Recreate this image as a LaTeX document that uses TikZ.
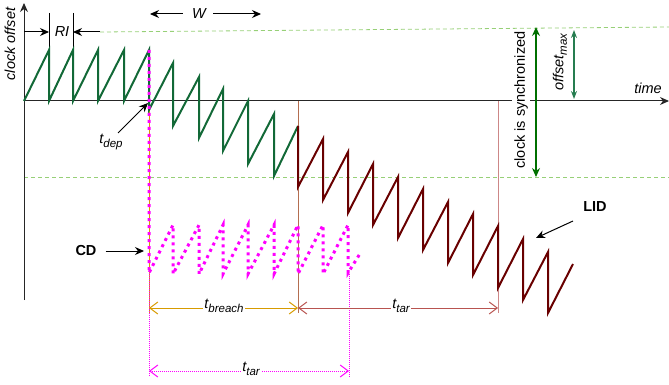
\documentclass[tikz,border=0pt]{standalone}
\usepackage{fontspec}
\setmainfont{Liberation Sans}
\usetikzlibrary{arrows.meta}
\definecolor{sawgreen}{RGB}{18,105,55}
\definecolor{sawred}{RGB}{105,0,0}
\definecolor{dashgreen}{RGB}{151,208,119}
\definecolor{syncgreen}{RGB}{0,112,0}
\definecolor{offgreen}{RGB}{38,125,80}
\definecolor{breachorange}{RGB}{215,155,0}
\definecolor{tarred}{RGB}{184,84,80}
\definecolor{brownline}{RGB}{180,110,80}
\definecolor{pinkline}{RGB}{205,135,135}
\definecolor{cdmag}{RGB}{255,0,255}
\newcommand\mysub[1]{\raisebox{-3.5pt}{\fontsize{11.5pt}{12pt}\selectfont #1}}
\begin{document}
\begin{tikzpicture}[x=1pt,y=-1pt,
  every node/.style={font=\fontsize{14.5pt}{17pt}\selectfont, inner sep=1pt},
  itl/.style={font=\fontsize{14.5pt}{17pt}\selectfont\itshape},
  bld/.style={font=\fontsize{14.5pt}{17pt}\selectfont\bfseries},
  axis/.style={line width=1pt, draw=black!85},
  guide/.style={draw=dashgreen, dashed, dash pattern=on 4pt off 3pt, line width=0.8pt},
  saw/.style={line width=2pt, line join=miter},
  cdline/.style={draw=cdmag, line width=3pt, dash pattern=on 3pt off 4pt},
  thinmag/.style={draw=cdmag, line width=0.8pt, dash pattern=on 1pt off 1pt},
  blackarrow/.style={draw=black, line width=1pt, -{Stealth[length=9pt,width=8pt]}},
  openarrow/.style={line width=1pt, {Straight Barb[length=8pt,width=12pt]}-{Straight Barb[length=8pt,width=12pt]}}
]
\useasboundingbox (0,0) rectangle (669,385);

% guide lines
\coordinate (gu1) at (100,32);
\coordinate (gu2) at (669,27);
\coordinate (gl1) at (24,177);
\coordinate (gl2) at (669,177);
\draw[guide] (gu1) -- (gu2);
\draw[guide] (gl1) -- (gl2);

% axes
\coordinate (o) at (24,101);
\coordinate (ytop) at (24,3);
\coordinate (ybot) at (24,300);
\coordinate (xend) at (669,101);
\draw[axis, -{Stealth[length=9pt,width=8pt]}] (ybot) -- (ytop);
\draw[axis, -{Stealth[length=9pt,width=8pt]}] (o) -- (xend);

\node[itl, rotate=90] (ylab) at (10,44) {clock offset};
\node[itl] (xlab) at (648,88) {time};

% RI
\coordinate (ri1t) at (49,13); \coordinate (ri1b) at (49,48);
\coordinate (ri2t) at (73,13); \coordinate (ri2b) at (73,48);
\draw[line width=0.8pt] (ri1t) -- (ri1b);
\draw[line width=0.8pt] (ri2t) -- (ri2b);
\coordinate (ria) at (24,32); \coordinate (riat) at (49,32);
\coordinate (rib) at (100,32); \coordinate (ribt) at (73,32);
\draw[blackarrow] (ria) -- (riat);
\draw[blackarrow] (rib) -- (ribt);
\node[itl] (RI) at (62,32) {RI};

% W
\node[itl] (W) at (199,14) {W};
\coordinate (wl) at (150,14);
\coordinate (wr) at (261,14);
\draw[blackarrow] ([xshift=-8pt]W.west) -- (wl);
\draw[blackarrow] ([xshift=6pt]W.east) -- (wr);

% vertical markers
\coordinate (v1t) at (149,101); \coordinate (v1b) at (149,313);
\coordinate (v2t) at (298,101); \coordinate (v2b) at (298,313);
\coordinate (v3t) at (498,101); \coordinate (v3b) at (498,313);
\draw[breachorange, line width=0.8pt] (v1t) -- (v1b);
\draw[brownline, line width=1pt] (v2t) -- (v2b);
\draw[pinkline, line width=1pt] (v3t) -- (v3b);

% green sawtooth
\draw[saw, sawgreen] (24,101)--(49,50)--(49,101)--(73,50)--(73,101)--(98,50)--(98,101)--(124,50)--(124,101)--(149,50)--(149,110)--(173,63)--(173,126)--(199,77)--(199,138)--(223,89)--(223,151)--(248,101)--(248,164)--(274,114)--(274,176)--(298,126);

% red sawtooth
\draw[saw, sawred] (298,126)--(298,187)--(323,139)--(323,200)--(348,152)--(348,213)--(373,164)--(373,225)--(398,177)--(398,238)--(423,189)--(423,250)--(448,202)--(448,263)--(473,214)--(473,275)--(498,226)--(498,288)--(523,239)--(523,300)--(548,252)--(548,313)--(573,264);

% CD sawtooth
\draw[cdline] (149,50)--(149,273)--(173,225)--(173,274)--(199,225)--(199,274)--(223,225)--(223,274)--(248,225)--(248,274)--(274,225)--(274,274)--(298,225)--(298,274)--(323,225)--(323,274)--(348,225)--(348,273)--(361,252);

% thin magenta verticals
\coordinate (m1t) at (149,273); \coordinate (m1b) at (149,377);
\coordinate (m2t) at (349,274); \coordinate (m2b) at (349,377);
\draw[thinmag] (m1t) -- (m1b);
\draw[thinmag] (m2t) -- (m2b);

% t_breach and t_tar arrows
\coordinate (tb1) at (149,308); \coordinate (tb2) at (298,308);
\coordinate (tt1) at (298,308); \coordinate (tt2) at (498,308);
\coordinate (tm1) at (149,371); \coordinate (tm2) at (349,371);
\draw[openarrow, breachorange] (tb1) -- (tb2);
\draw[openarrow, tarred] (tt1) -- (tt2);
\draw[openarrow, cdmag, dash pattern=on 1pt off 1pt] (tm1) -- (tm2);
\node[itl, fill=white] (tbreach) at (224,306) {t\mysub{breach}};
\node[itl, fill=white] (ttar) at (401,306) {t\mysub{tar}};
\node[itl, fill=white] (ttar2) at (251,369) {t\mysub{tar}};

% t_dep
\node[itl] (tdep) at (111,142) {t\mysub{dep}};
\coordinate (tdept) at (148,103);
\draw[blackarrow] (118,133) -- (tdept);

% CD and LID labels
\node[bld] (CD) at (86,251) {CD};
\coordinate (cdt) at (144,251);
\draw[blackarrow] ([xshift=8pt]CD.east) -- (cdt);
\node[bld] (LID) at (595,207) {LID};
\coordinate (lidt) at (536,238);
\draw[blackarrow] (573,221) -- (lidt);

% sync arrows
\coordinate (s1) at (536,27); \coordinate (s2) at (536,177);
\node[rotate=90, fill=white, inner sep=2pt] (sync) at (521,100) {clock is synchronized};
\draw[syncgreen, line width=1.2pt, {Stealth[length=9pt,width=8pt]}-{Stealth[length=9pt,width=8pt]}] (s1) -- (s2);
\coordinate (of1) at (574,30); \coordinate (of2) at (574,99);
\draw[offgreen, line width=1.2pt, {Stealth[length=8pt,width=6pt]}-{Stealth[length=8pt,width=6pt]}] (of1) -- (of2);
\node[itl, rotate=90] (offmax) at (560,62) {offset\mysub{max}};
\end{tikzpicture}
\end{document}
